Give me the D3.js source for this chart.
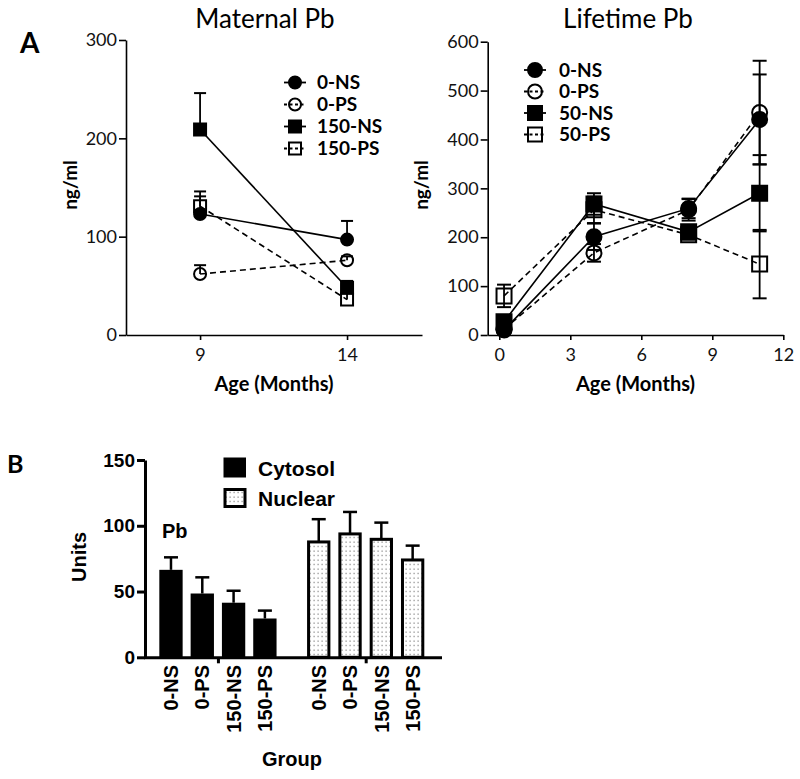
<!DOCTYPE html>
<html><head><meta charset="utf-8">
<script src="https://cdn.jsdelivr.net/npm/d3@7/dist/d3.min.js"></script>
<style>body{margin:0;background:#fff}svg{display:block}</style>
</head><body>
<script>
// ---------- Panel A: Maternal Pb ----------
const matAges = [9, 14];
const matNames = ["0-NS", "0-PS", "150-NS", "150-PS"];
const mat0NS = [123, 97];    const mat0NSErr = [18, 19];
const mat0PS = [62, 76];     const mat0PSErr = [9, 4];
const mat150NS = [209, 48];  const mat150NSErr = [37, 7];
const mat150PS = [131, 36];  const mat150PSErr = [15, 16];
const matYTicks = [0, 100, 200, 300];
const matXTicks = [9, 14];

// ---------- Panel A: Lifetime Pb ----------
const lifeAges = [0.2, 4, 8, 11];
const lifeNames = ["0-NS", "0-PS", "50-NS", "50-PS"];
const life0NS = [10, 201, 259, 441];   const life0NSErr = [5, 27, 20, 92];
const life0PS = [12, 168, 256, 455];   const life0PSErr = [5, 18, 22, 106];
const life50NS = [27, 268, 211, 290];  const life50NSErr = [8, 22, 8, 78];
const life50PS = [80, 256, 205, 145];  const life50PSErr = [23, 27, 10, 70];
const lifeYTicks = [0, 100, 200, 300, 400, 500, 600];
const lifeXTicks = [0, 3, 6, 9, 12];

// ---------- Panel B: bars ----------
const barGroups = ["0-NS", "0-PS", "150-NS", "150-PS"];
const barFractions = ["Cytosol", "Nuclear"];
const cytosol = [66.5, 48.5, 41.5, 29.5];
const cytosolErr = [9.5, 12.3, 9.1, 6];
const nuclear = [87.7, 93.8, 89.7, 74];
const nuclearErr = [17.3, 16.7, 12.7, 10.9];
const barYTicks = [0, 50, 100, 150];

// series styles (filled circle solid, open circle dashed, filled square solid, open square dashed)
const styles = [
  {shape: d3.symbolCircle, filled: true,  dashed: false},
  {shape: d3.symbolCircle, filled: false, dashed: true},
  {shape: d3.symbolSquare, filled: true,  dashed: false},
  {shape: d3.symbolSquare, filled: false, dashed: true}
];

const W = 800, H = 779;
const svg = d3.select("body").append("svg").attr("width", W).attr("height", H);
svg.append("rect").attr("width", W).attr("height", H).attr("fill", "#fff");

const FA = "Lato, 'Open Sans', sans-serif";
const FB = "'Liberation Sans', Arial, sans-serif";

function symSize(shape, d) {
  return shape === d3.symbolCircle ? Math.PI * (d / 2) * (d / 2) : d * d;
}

function lineChart(cfg) {
  const x = d3.scaleLinear().domain(cfg.xDomain).range(cfg.xRange);
  const y = d3.scaleLinear().domain(cfg.yDomain).range(cfg.yRange);
  const g = svg.append("g");

  const xa = g.append("g").attr("transform", `translate(0,${cfg.yRange[0]})`)
    .call(d3.axisBottom(x).tickValues(cfg.xTicks).tickSize(5).tickSizeOuter(0).tickPadding(8).tickFormat(d3.format("d")));
  const ya = g.append("g").attr("transform", `translate(${cfg.xRange[0]},0)`)
    .call(d3.axisLeft(y).tickValues(cfg.yTicks).tickSize(7).tickSizeOuter(0).tickPadding(2));
  [xa, ya].forEach(a => {
    a.selectAll("path,line").attr("stroke", "#000").attr("stroke-width", 1.6);
    a.selectAll("text").attr("font-family", FA).attr("font-size", 18).attr("fill", "#111");
  });

  const line = d3.line().x((d, i) => x(cfg.ages[i])).y(d => y(d));
  cfg.series.forEach((s, k) => {
    g.append("path").attr("d", line(s.vals)).attr("fill", "none").attr("stroke", "#000")
      .attr("stroke-width", 1.6).attr("stroke-dasharray", styles[k].dashed ? "6,4" : null);
  });
  cfg.series.forEach((s, k) => {
    s.vals.forEach((v, i) => {
      const cx = x(cfg.ages[i]);
      const top = y(v + s.err[i]);
      const bot = cfg.both ? y(v - s.err[i]) : y(v);
      g.append("line").attr("x1", cx).attr("x2", cx).attr("y1", top).attr("y2", bot)
        .attr("stroke", "#000").attr("stroke-width", 1.8);
      g.append("line").attr("x1", cx - cfg.cap / 2).attr("x2", cx + cfg.cap / 2).attr("y1", top).attr("y2", top)
        .attr("stroke", "#000").attr("stroke-width", 2);
      if (cfg.both) {
        g.append("line").attr("x1", cx - cfg.cap / 2).attr("x2", cx + cfg.cap / 2).attr("y1", bot).attr("y2", bot)
          .attr("stroke", "#000").attr("stroke-width", 2);
      }
    });
  });
  cfg.series.forEach((s, k) => {
    const st = styles[k];
    s.vals.forEach((v, i) => {
      g.append("path").attr("d", d3.symbol().type(st.shape).size(symSize(st.shape, cfg.msize))())
        .attr("transform", `translate(${x(cfg.ages[i])},${y(v)})`)
        .attr("fill", st.filled ? "#000" : "none").attr("stroke", "#000").attr("stroke-width", 2);
    });
  });

  // legend
  cfg.series.forEach((s, k) => {
    const st = styles[k];
    const ly = cfg.legY + k * cfg.legStep;
    g.append("line").attr("x1", cfg.legX - 11).attr("x2", cfg.legX + 11).attr("y1", ly).attr("y2", ly)
      .attr("stroke", "#000").attr("stroke-width", 1.8).attr("stroke-dasharray", st.dashed ? "3,2.5" : null);
    g.append("path").attr("d", d3.symbol().type(st.shape).size(symSize(st.shape, cfg.legM))())
      .attr("transform", `translate(${cfg.legX},${ly})`)
      .attr("fill", st.filled ? "#000" : "none").attr("stroke", "#000").attr("stroke-width", 2);
    g.append("text").attr("x", cfg.legTx).attr("y", ly).attr("dy", "0.36em")
      .attr("font-family", FA).attr("font-weight", "bold").attr("font-size", 19).text(s.name);
  });

  // title and labels
  const cxm = (cfg.xRange[0] + cfg.xRange[1]) / 2;
  g.append("text").attr("x", cfg.titleX).attr("y", 28).attr("text-anchor", "middle")
    .attr("font-family", FA).attr("font-size", 26).text(cfg.title);
  g.append("text").attr("x", cxm).attr("y", 391).attr("text-anchor", "middle")
    .attr("font-family", FA).attr("font-weight", "bold").attr("font-size", 20).text("Age (Months)");
  g.append("text").attr("transform", `translate(${cfg.ylabX},185) rotate(-90)`).attr("text-anchor", "middle")
    .attr("font-family", FA).attr("font-weight", "bold").attr("font-size", 19).text("ng/ml");
}

lineChart({
  xDomain: [6.48, 16.55], xRange: [126, 422], yDomain: [0, 300], yRange: [335, 40],
  xTicks: matXTicks, yTicks: matYTicks, ages: matAges, both: false, cap: 12, msize: 12,
  series: [
    {name: matNames[0], vals: mat0NS, err: mat0NSErr},
    {name: matNames[1], vals: mat0PS, err: mat0PSErr},
    {name: matNames[2], vals: mat150NS, err: mat150NSErr},
    {name: matNames[3], vals: mat150PS, err: mat150PSErr}
  ],
  legX: 295, legY: 82.5, legStep: 22, legTx: 317, legM: 12,
  title: "Maternal Pb", titleX: 265, ylabX: 77
});

lineChart({
  xDomain: [-0.49, 12], xRange: [487.7, 783.3], yDomain: [0, 600], yRange: [335, 41.7],
  xTicks: lifeXTicks, yTicks: lifeYTicks, ages: lifeAges, both: true, cap: 14, msize: 15,
  series: [
    {name: lifeNames[0], vals: life0NS, err: life0NSErr},
    {name: lifeNames[1], vals: life0PS, err: life0PSErr},
    {name: lifeNames[2], vals: life50NS, err: life50NSErr},
    {name: lifeNames[3], vals: life50PS, err: life50PSErr}
  ],
  legX: 535, legY: 70, legStep: 21.5, legTx: 559, legM: 14,
  title: "Lifetime Pb", titleX: 628, ylabX: 428
});

svg.append("text").attr("x", 20).attr("y", 53).attr("font-family", FA).attr("font-weight", "bold")
  .attr("font-size", 28).text("A");

// ---------- Panel B ----------
const defs = svg.append("defs");
const pat = defs.append("pattern").attr("id", "dots").attr("patternUnits", "userSpaceOnUse")
  .attr("width", 4).attr("height", 4.5);
pat.append("rect").attr("width", 4).attr("height", 4.5).attr("fill", "#fff");
pat.append("rect").attr("x", 1.5).attr("y", 1.5).attr("width", 1.2).attr("height", 1.2).attr("fill", "#7a7a7a");

const groupGap = 4.72; // slot offset of second fraction group
const xB = d3.scaleLinear().domain([-0.83, 8.594]).range([145, 440]);
const yB = d3.scaleLinear().domain([0, 150]).range([657.3, 460]);
const bw = xB(0.745) - xB(0);
const gB = svg.append("g");

const xaB = gB.append("g").attr("transform", `translate(0,${yB(0)})`)
  .call(d3.axisBottom(xB).tickValues([1.5, 1.5 + groupGap]).tickSize(6).tickSizeOuter(0).tickFormat(""));
const yaB = gB.append("g").attr("transform", `translate(${xB.range()[0]},0)`)
  .call(d3.axisLeft(yB).tickValues(barYTicks).tickSize(8).tickSizeOuter(0).tickPadding(2));
[xaB, yaB].forEach(a => {
  a.selectAll("path,line").attr("stroke", "#000").attr("stroke-width", 3);
  a.selectAll("text").attr("font-family", FB).attr("font-weight", "bold").attr("font-size", 19).attr("fill", "#000");
});
xaB.select(".domain").attr("stroke-linecap", "square");

const fracData = [
  {vals: cytosol, err: cytosolErr, fill: "#000", stroke: null},
  {vals: nuclear, err: nuclearErr, fill: "url(#dots)", stroke: "#000"}
];
fracData.forEach((f, gi) => {
  f.vals.forEach((v, i) => {
    const slot = i + gi * groupGap;
    const cx = xB(slot);
    const top = yB(v);
    const et = yB(v + f.err[i]);
    gB.append("line").attr("x1", cx).attr("x2", cx).attr("y1", top).attr("y2", et)
      .attr("stroke", "#000").attr("stroke-width", 2.5);
    gB.append("line").attr("x1", cx - 7).attr("x2", cx + 7).attr("y1", et).attr("y2", et)
      .attr("stroke", "#000").attr("stroke-width", 2.5);
    if (f.stroke) {
      gB.append("rect").attr("x", cx - bw / 2 + 1.5).attr("y", top).attr("width", bw - 3)
        .attr("height", yB(0) - top).attr("fill", f.fill).attr("stroke", "#000").attr("stroke-width", 3);
    } else {
      gB.append("rect").attr("x", cx - bw / 2).attr("y", top).attr("width", bw)
        .attr("height", yB(0) - top).attr("fill", f.fill);
    }
    gB.append("text").attr("transform", `translate(${cx},665) rotate(-90)`).attr("text-anchor", "end")
      .attr("dy", "0.36em").attr("font-family", FB).attr("font-weight", "bold").attr("font-size", 20)
      .text(barGroups[i]);
  });
});

// legend B
gB.append("rect").attr("x", 223.5).attr("y", 457.5).attr("width", 22.5).attr("height", 20).attr("fill", "#000");
gB.append("rect").attr("x", 225).attr("y", 489.5).attr("width", 20).attr("height", 17)
  .attr("fill", "url(#dots)").attr("stroke", "#000").attr("stroke-width", 3);
gB.append("text").attr("x", 258).attr("y", 476).attr("font-family", FB).attr("font-weight", "bold")
  .attr("font-size", 21).text(barFractions[0]);
gB.append("text").attr("x", 258).attr("y", 506).attr("font-family", FB).attr("font-weight", "bold")
  .attr("font-size", 21).text(barFractions[1]);

gB.append("text").attr("x", 162).attr("y", 538).attr("font-family", FB).attr("font-weight", "bold")
  .attr("font-size", 20).text("Pb");
gB.append("text").attr("transform", "translate(86,557) rotate(-90)").attr("text-anchor", "middle")
  .attr("font-family", FB).attr("font-weight", "bold").attr("font-size", 20).text("Units");
gB.append("text").attr("x", 292).attr("y", 766).attr("text-anchor", "middle")
  .attr("font-family", FB).attr("font-weight", "bold").attr("font-size", 20).text("Group");

svg.append("text").attr("x", 7).attr("y", 473).attr("font-family", FA).attr("font-weight", "bold")
  .attr("font-size", 25).text("B");
</script>
</body></html>
